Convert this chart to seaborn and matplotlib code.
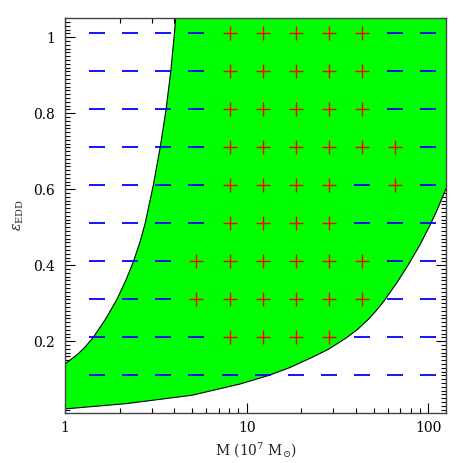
import pandas as pd
import seaborn as sns
import matplotlib.pyplot as plt
from matplotlib.ticker import FixedLocator, LogLocator, MultipleLocator, FuncFormatter, NullFormatter

# grid of models: mass (1e7 Msun) x Eddington ratio
mass_grid = [1.5, 2.28, 3.48, 5.29, 8.05, 12.25, 18.65, 28.4, 43.2, 65.7, 100.0]
edd_grid = [0.11, 0.21, 0.31, 0.41, 0.51, 0.61, 0.71, 0.81, 0.91, 1.01]
# '+' = accepted model, '-' = rejected, one string per edd row (bottom to top)
row_flags = [
    "-----------",
    "----++++---",
    "---++++++--",
    "---++++++--",
    "----++++---",
    "----++++-+-",
    "----++++++-",
    "----+++++--",
    "----+++++--",
    "----+++++--",
]

# boundary curves of the allowed region
upper_m = [1.0, 1.18, 1.29, 1.43, 1.68, 1.93, 2.16, 2.38, 2.59, 2.76, 3.06, 3.34, 3.60, 3.82, 4.00, 4.07]
upper_e = [0.140, 0.167, 0.185, 0.21, 0.26, 0.31, 0.36, 0.41, 0.462, 0.51, 0.61, 0.71, 0.81, 0.91, 1.01, 1.052]
lower_m = [1.0, 2.18, 5.0, 9.2, 13.2, 17.2, 22.3, 28.2, 35.6, 40.7, 46.8, 51.3, 56.6, 67.1, 77.7,
           90.2, 102.0, 111.4, 125.0]
lower_e = [0.022, 0.036, 0.058, 0.0876, 0.11, 0.1305, 0.155, 0.179, 0.210, 0.231, 0.258, 0.279,
           0.304, 0.354, 0.402, 0.455, 0.505, 0.544, 0.601]

x_lim = (1, 125)
y_lim = (0.012, 1.052)

rows = []
for e, flags in zip(edd_grid, row_flags):
    for m, f in zip(mass_grid, flags):
        rows.append({"M": m, "eps": e, "flag": f})
grid = pd.DataFrame(rows)

sns.set_style("ticks")
plt.rcParams["font.family"] = ["DejaVu Serif"]
plt.rcParams["mathtext.fontset"] = "dejavuserif"

fig = plt.figure(figsize=(4.63, 4.63), dpi=100)
ax = fig.add_axes([0.1404, 0.1086, 0.8228, 0.8536])

# green allowed region
poly_x = upper_m + [x_lim[1]] + lower_m[::-1]
poly_y = upper_e + [y_lim[1]] + lower_e[::-1]
ax.fill(poly_x, poly_y, color="#00ff00", lw=0, zorder=1)

sns.lineplot(x=upper_m, y=upper_e, color="black", lw=0.8, sort=False, estimator=None, ax=ax, zorder=2)
sns.lineplot(x=lower_m, y=lower_e, color="black", lw=0.8, sort=False, estimator=None, ax=ax, zorder=2)

sns.scatterplot(data=grid[grid.flag == "-"], x="M", y="eps", marker="_", color="#0000ff",
                s=120, linewidth=1.3, ax=ax, zorder=3)
sns.scatterplot(data=grid[grid.flag == "+"], x="M", y="eps", marker="+", color="#ff0000",
                s=110, linewidth=1.0, ax=ax, zorder=3)

ax.set_xscale("log")
ax.set_xlim(*x_lim)
ax.set_ylim(*y_lim)

ax.xaxis.set_major_locator(FixedLocator([1, 10, 100]))
ax.xaxis.set_major_formatter(FuncFormatter(lambda v, p: f"{v:g}"))
ax.xaxis.set_minor_locator(LogLocator(base=10, subs=range(2, 10)))
ax.xaxis.set_minor_formatter(NullFormatter())
ax.yaxis.set_major_locator(MultipleLocator(0.2))
ax.yaxis.set_minor_locator(MultipleLocator(0.01))
ax.yaxis.set_major_formatter(FuncFormatter(lambda v, p: f"{v:g}"))

ax.tick_params(which="both", direction="in", top=True, right=True, colors="black", width=0.8)
ax.tick_params(which="major", length=7, labelsize=10)
ax.tick_params(axis="x", which="major", pad=6)
ax.tick_params(axis="y", which="major", pad=7)
ax.tick_params(which="minor", length=3.5)
for s in ax.spines.values():
    s.set_linewidth(1.0)
    s.set_color("#444444")

ax.set_xlabel(r"M (10$^{7}$ M$_{\odot}$)", fontsize=10, labelpad=4)
ax.set_ylabel(r"$\epsilon_{\rm EDD}$", fontsize=10, labelpad=5)

fig.savefig("out.png", dpi=100)
